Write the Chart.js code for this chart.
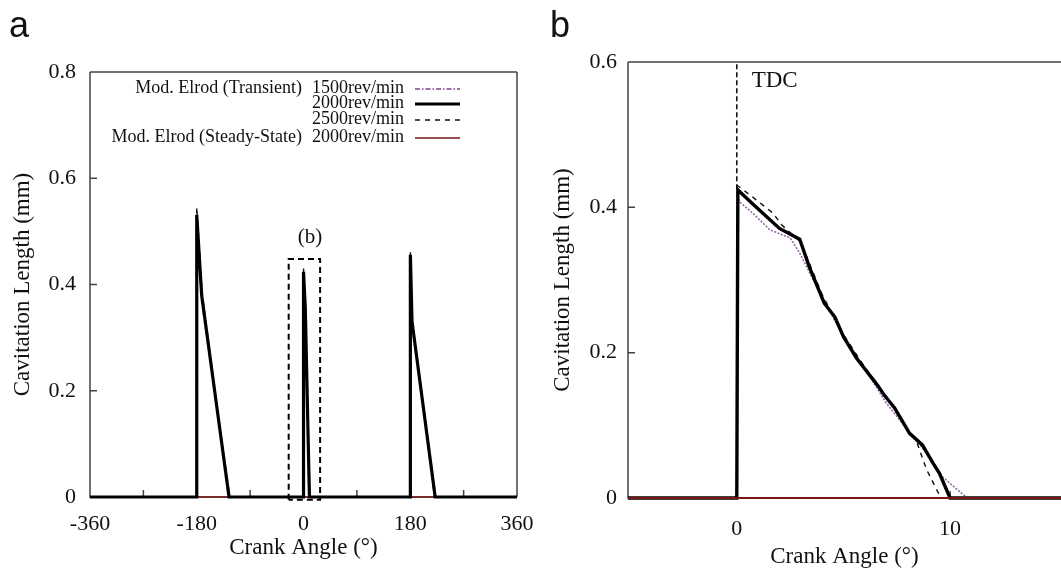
<!DOCTYPE html>
<html>
<head>
<meta charset="utf-8">
<script src="https://cdn.jsdelivr.net/npm/chart.js@4.4.0/dist/chart.umd.min.js"></script>
<style>
html, body { margin: 0; padding: 0; background: #fff; overflow: hidden; }
#chartA { position: absolute; left: 0; top: 0; }
#chartB { position: absolute; left: 540px; top: 0; }
</style>
</head>
<body>
<canvas id="chartA" width="560" height="572"></canvas>
<canvas id="chartB" width="521" height="572"></canvas>
<script>
// panel a : full cycle
const angleA1500 = [-360, -180.2, -180, -172, -124, 0, 0.1, 3, 10.8, 180, 180.2, 183, 223, 360];
const lenA1500   = [0, 0, 0.52, 0.37, 0, 0, 0.415, 0.34, 0, 0, 0.45, 0.33, 0, 0];
const angleA2000 = [-360, -180.3, -180, -171.7, -125.6, 0, 0.05, 3, 10, 180, 180.2, 183, 222, 360];
const lenA2000   = [0, 0, 0.531, 0.38, 0, 0, 0.424, 0.356, 0, 0, 0.456, 0.33, 0, 0];
const angleA2500 = [-360, -180.3, -180, -171, -126, 0, 0.03, 3, 9.6, 180, 180.2, 183, 221, 360];
const lenA2500   = [0, 0, 0.545, 0.385, 0, 0, 0.43, 0.352, 0, 0, 0.462, 0.335, 0, 0];
const angleASteady = [-360, 360];
const lenASteady   = [0, 0];
const boxAngle = [-25, -25, 28, 28, -25];
const boxLen   = [-0.005, 0.448, 0.448, -0.005, -0.005];

// panel b : zoom around TDC
const angleB1500 = [-5.1, 0, 0.05, 0.15, 0.75, 1.55, 2.5, 2.95, 3.9, 5.0, 6.0, 7.0, 8.0, 9.05, 9.65, 10.8, 15.2];
const lenB1500   = [0, 0, 0.415, 0.407, 0.392, 0.369, 0.358, 0.337, 0.282, 0.222, 0.178, 0.131, 0.094, 0.056, 0.029, 0, 0];
const angleB2000 = [-5.1, 0, 0.05, 0.7, 2.0, 2.95, 3.4, 4.1, 4.6, 5.0, 5.6, 6.6, 6.9, 7.4, 8.1, 8.7, 9.2, 9.5, 10.0, 15.2];
const lenB2000   = [0, 0, 0.424, 0.406, 0.371, 0.356, 0.318, 0.268, 0.249, 0.222, 0.193, 0.155, 0.142, 0.124, 0.089, 0.073, 0.048, 0.034, 0, 0];
const angleB2500 = [-5.1, 0, 0.03, 0.75, 1.7, 2.1, 3.0, 4.0, 5.0, 6.0, 7.0, 8.0, 8.45, 8.9, 9.5, 9.6, 15.2];
const lenB2500   = [0, 0, 0.43, 0.414, 0.392, 0.376, 0.352, 0.28, 0.225, 0.18, 0.14, 0.095, 0.076, 0.039, 0.004, 0, 0];
const angleBSteady = [-5.1, 15.2];
const lenBSteady   = [0, 0];
const tdcAngle = [0, 0];
const tdcLen   = [0.425, 0.6];

// ticks
const ticksAX = [-360, -180, 0, 180, 360];
const minorAX = [-270, -90, 90, 270];
const ticksAY = [0, 0.2, 0.4, 0.6, 0.8];
const ticksBX = [0, 10];
const ticksBY = [0, 0.2, 0.4, 0.6];

const legendModels = ['Mod. Elrod (Transient)', '', '', 'Mod. Elrod (Steady-State)'];
const legendSpeeds = ['1500rev/min', '2000rev/min', '2500rev/min', '2000rev/min'];

const serif = "'Liberation Serif', 'DejaVu Serif', serif";
const ink = '#111';

function pts(xs, ys) {
    return xs.map((x, i) => ({ x: x, y: ys[i] }));
}

function style1500() { return { borderColor: '#7d3f8c', borderWidth: 1.6, borderDash: [5, 2, 1.5, 2] }; }
function style2000() { return { borderColor: '#000', borderWidth: 3.2, borderDash: [] }; }
function style2500() { return { borderColor: '#111', borderWidth: 1.4, borderDash: [5, 5] }; }
function styleSteady() { return { borderColor: '#7a1515', borderWidth: 1.6, borderDash: [] }; }

function line(label, data, st, order, extra) {
    return Object.assign({
        label: label, data: data, showLine: true, pointRadius: 0, fill: false,
        tension: 0, order: order, clip: 6
    }, st, extra || {});
}

// inward ticks + frame
function framePlugin(xTicks, yTicks, sides) {
    return {
        id: 'frame',
        beforeDatasetsDraw(chart) {
            const c = chart.ctx, a = chart.chartArea;
            const xs = chart.scales.x, ys = chart.scales.y;
            c.save();
            c.strokeStyle = '#444';
            c.lineWidth = 1.5;
            c.beginPath();
            if (sides.top) { c.moveTo(a.left, a.top); c.lineTo(a.right, a.top); }
            if (sides.right) { c.moveTo(a.right, a.top); c.lineTo(a.right, a.bottom); }
            c.moveTo(a.left, a.top); c.lineTo(a.left, a.bottom); c.lineTo(a.right, a.bottom);
            xTicks.forEach(v => {
                const px = xs.getPixelForValue(v);
                c.moveTo(px, a.bottom); c.lineTo(px, a.bottom - 7);
            });
            yTicks.forEach(v => {
                const py = ys.getPixelForValue(v);
                c.moveTo(a.left, py); c.lineTo(a.left + 7, py);
            });
            c.stroke();
            c.restore();
        }
    };
}

function yScale(max, ticks, width, pad) {
    return {
        type: 'linear', min: 0, max: max,
        grid: { display: false, drawTicks: false }, border: { display: false },
        afterBuildTicks: s => { s.ticks = ticks.map(v => ({ value: v })); },
        afterFit: s => { s.width = width; },
        ticks: { color: ink, font: { family: serif, size: 22 }, padding: pad },
        title: { display: true, text: 'Cavitation Length (mm)', color: ink,
                 font: { family: serif, size: 23 }, padding: { top: 9 } }
    };
}

function xScale(min, max, ticks, height, pad, titlePad) {
    return {
        type: 'linear', min: min, max: max,
        grid: { display: false, drawTicks: false }, border: { display: false },
        afterBuildTicks: s => { s.ticks = ticks.map(v => ({ value: v })); },
        afterFit: s => { s.height = height; },
        ticks: { color: ink, font: { family: serif, size: 22 }, padding: pad, maxRotation: 0, autoSkip: false },
        title: { display: true, text: 'Crank Angle (°)', color: ink,
                 font: { family: serif, size: 23 }, padding: { top: 0, bottom: titlePad } }
    };
}

// ---------- panel a ----------
const legendPlugin = {
    id: 'legendA',
    afterDatasetsDraw(chart) {
        const c = chart.ctx;
        const rows = [88, 103, 119, 137];
        const styles = [style1500(), style2000(), style2500(), styleSteady()];
        c.save();
        c.font = '18px ' + serif;
        c.fillStyle = ink;
        c.textBaseline = 'middle';
        c.textAlign = 'right';
        rows.forEach((y, i) => {
            if (legendModels[i]) c.fillText(legendModels[i], 302, y);
            c.fillText(legendSpeeds[i], 404, y);
            c.strokeStyle = styles[i].borderColor;
            c.lineWidth = styles[i].borderWidth;
            c.setLineDash(styles[i].borderDash);
            c.beginPath();
            c.moveTo(415, y + 1);
            c.lineTo(460, y + 1);
            c.stroke();
        });
        c.setLineDash([]);
        // zoom label
        c.textAlign = 'center';
        c.font = '21px ' + serif;
        c.fillText('(b)', chart.scales.x.getPixelForValue(11), chart.scales.y.getPixelForValue(0.488));
        // panel letter
        c.textAlign = 'left';
        c.textBaseline = 'alphabetic';
        c.font = '36px "Liberation Sans", Arial, sans-serif';
        c.fillText('a', 9, 37);
        c.restore();
    }
};

const chartA = new Chart(document.getElementById('chartA').getContext('2d'), {
    type: 'scatter',
    data: {
        datasets: [
            line('2000rev/min', pts(angleA2000, lenA2000), style2000(), 1),
            line('2500rev/min', pts(angleA2500, lenA2500), style2500(), 2),
            line('1500rev/min', pts(angleA1500, lenA1500), style1500(), 3),
            line('Steady 2000rev/min', pts(angleASteady, lenASteady), styleSteady(), 4),
            line('(b)', pts(boxAngle, boxLen), { borderColor: '#000', borderWidth: 2, borderDash: [6, 4] }, 0, { clip: false })
        ]
    },
    options: {
        responsive: false,
        animation: false,
        devicePixelRatio: 1,
        layout: { padding: { left: 0, top: 72, right: 43, bottom: 0 } },
        plugins: { legend: { display: false }, tooltip: { enabled: false } },
        scales: {
            x: xScale(-360, 360, ticksAX, 75, 14, 10),
            y: yScale(0.8, ticksAY, 90, 14)
        }
    },
    plugins: [framePlugin(ticksAX.concat(minorAX), ticksAY, { top: true, right: true }), legendPlugin]
});

// ---------- panel b ----------
const labelPluginB = {
    id: 'labelsB',
    afterDatasetsDraw(chart) {
        const c = chart.ctx;
        c.save();
        c.fillStyle = ink;
        c.font = '23px ' + serif;
        c.textBaseline = 'middle';
        c.textAlign = 'left';
        c.fillText('TDC', chart.scales.x.getPixelForValue(0.7), chart.scales.y.getPixelForValue(0.574));
        c.textBaseline = 'alphabetic';
        c.font = '36px "Liberation Sans", Arial, sans-serif';
        c.fillText('b', 10, 37);
        c.restore();
    }
};

const chartB = new Chart(document.getElementById('chartB').getContext('2d'), {
    type: 'scatter',
    data: {
        datasets: [
            line('Steady 2000rev/min', pts(angleBSteady, lenBSteady), Object.assign(styleSteady(), { borderWidth: 2.2 }), 0),
            line('2000rev/min', pts(angleB2000, lenB2000), Object.assign(style2000(), { borderWidth: 3.4 }), 1),
            line('2500rev/min', pts(angleB2500, lenB2500), style2500(), 2),
            line('1500rev/min', pts(angleB1500, lenB1500), Object.assign(style1500(), { borderColor: '#9466a3', borderDash: [2, 1.5] }), 3),
            line('TDC', pts(tdcAngle, tdcLen), { borderColor: '#111', borderWidth: 1.6, borderDash: [5, 3] }, 2)
        ]
    },
    options: {
        responsive: false,
        animation: false,
        devicePixelRatio: 1,
        layout: { padding: { left: 0, top: 62, right: 0, bottom: 0 } },
        plugins: { legend: { display: false }, tooltip: { enabled: false } },
        scales: {
            x: xScale(-5.1, 15.2, ticksBX, 74, 18, 1),
            y: yScale(0.6, ticksBY, 88, 11)
        }
    },
    plugins: [framePlugin(ticksBX, ticksBY, { top: true, right: false }), labelPluginB]
});
</script>
</body>
</html>
